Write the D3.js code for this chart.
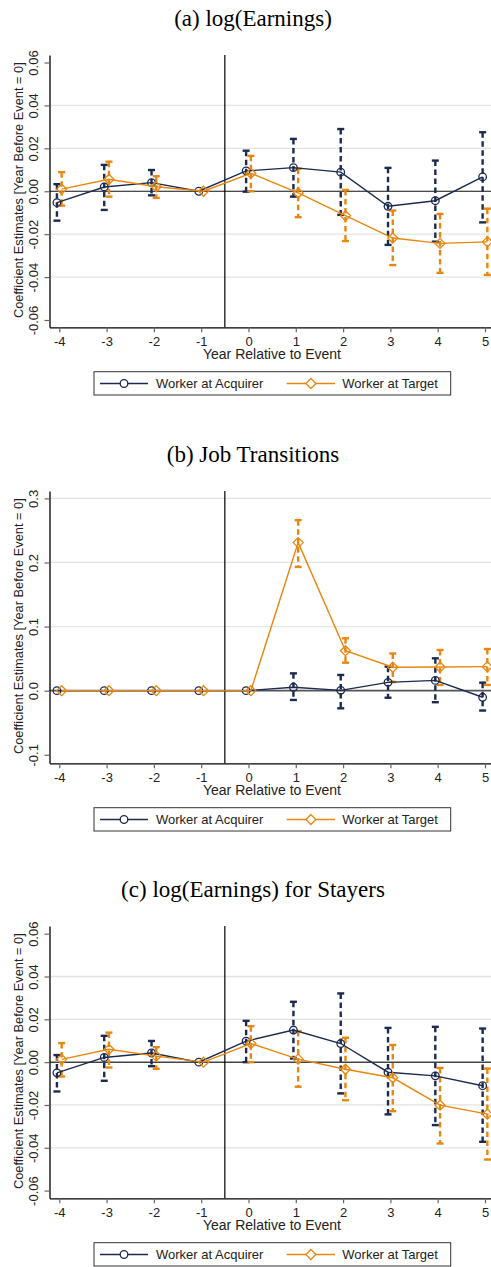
<!DOCTYPE html>
<html>
<head>
<meta charset="utf-8">
<script src="https://cdn.jsdelivr.net/npm/d3@7"></script>
<style>
  html, body { margin: 0; padding: 0; background: #fff; }
  svg { display: block; }
</style>
</head>
<body>
<svg id="chart" width="491" height="1267"></svg>
<script>
// Event-study coefficients, relative years -4..5 (year -1 is the reference year)
const years = [-4, -3, -2, -1, 0, 1, 2, 3, 4, 5];
const xTickValues = [-4, -3, -2, -1, 0, 1, 2, 3, 4, 5];
const seriesNames = ["Worker at Acquirer", "Worker at Target"];

// (a) log(Earnings)
const acqEarn   = [-0.0053, 0.0020, 0.0040, 0, 0.0095, 0.0110, 0.0089, -0.0070, -0.0044, 0.0067];
const acqEarnLo = [-0.0137, -0.0087, -0.0019, 0, -0.0002, -0.0025, -0.0110, -0.0250, -0.0235, -0.0145];
const acqEarnHi = [0.0033, 0.0123, 0.0099, 0, 0.0189, 0.0244, 0.0290, 0.0109, 0.0143, 0.0275];
const tgtEarn   = [0.0010, 0.0056, 0.0021, 0, 0.0084, -0.0008, -0.0114, -0.0218, -0.0243, -0.0236];
const tgtEarnLo = [-0.0067, -0.0025, -0.0031, 0, 0.0000, -0.0121, -0.0232, -0.0344, -0.0380, -0.0390];
const tgtEarnHi = [0.0089, 0.0138, 0.0070, 0, 0.0165, 0.0105, 0.0006, -0.0090, -0.0106, -0.0081];

// (b) Job Transitions
const acqJob   = [0, 0, 0, 0, 0, 0.0053, 0.0005, 0.0130, 0.0160, -0.0103];
const acqJobLo = [0, 0, 0, 0, 0, -0.0145, -0.0275, -0.0110, -0.0180, -0.0310];
const acqJobHi = [0, 0, 0, 0, 0, 0.0270, 0.0245, 0.0375, 0.0505, 0.0125];
const tgtJob   = [0, 0, 0, 0, 0, 0.2310, 0.0624, 0.0365, 0.0370, 0.0375];
const tgtJobLo = [0, 0, 0, 0, 0, 0.1930, 0.0437, 0.0136, 0.0090, 0.0090];
const tgtJobHi = [0, 0, 0, 0, 0, 0.2660, 0.0817, 0.0580, 0.0635, 0.0650];

// (c) log(Earnings) for Stayers
const acqStay   = [-0.0050, 0.0022, 0.0043, 0, 0.0098, 0.0150, 0.0087, -0.0047, -0.0064, -0.0110];
const acqStayLo = [-0.0137, -0.0087, -0.0019, 0, 0.0000, 0.0017, -0.0146, -0.0244, -0.0294, -0.0372];
const acqStayHi = [0.0033, 0.0123, 0.0099, 0, 0.0193, 0.0282, 0.0321, 0.0160, 0.0165, 0.0157];
const tgtStay   = [0.0013, 0.0060, 0.0028, 0, 0.0087, 0.0014, -0.0033, -0.0073, -0.0201, -0.0243];
const tgtStayLo = [-0.0067, -0.0025, -0.0031, 0, 0.0000, -0.0115, -0.0178, -0.0229, -0.0380, -0.0455];
const tgtStayHi = [0.0089, 0.0138, 0.0070, 0, 0.0168, 0.0145, 0.0114, 0.0080, -0.0027, -0.0030];

// Y tick labels per panel
const earnTicks = [-0.06, -0.04, -0.02, 0, 0.02, 0.04, 0.06];
const earnTickLabels = ["-0.06", "-0.04", "-0.02", "0.00", "0.02", "0.04", "0.06"];
const jobTicks = [-0.1, 0, 0.1, 0.2, 0.3];
const jobTickLabels = ["-0.1", "0.0", "0.1", "0.2", "0.3"];

const panelTitles = ["(a) log(Earnings)", "(b) Job Transitions", "(c) log(Earnings) for Stayers"];

const NAVY = "#1c2a50";
const ORANGE = "#e8870f";
const SANS = "'Liberation Sans', Arial, Helvetica, sans-serif";
const SERIF = "'Liberation Serif', 'Times New Roman', Times, serif";

const panels = [
  { top: 0, title: panelTitles[0], yDomain: [-0.0634, 0.0635], ticks: earnTicks, labels: earnTickLabels,
    grid: [-0.04, -0.02, 0.02, 0.04], zeroColor: "#111", zeroWidth: 1.2,
    acq: acqEarn, acqLo: acqEarnLo, acqHi: acqEarnHi, tgt: tgtEarn, tgtLo: tgtEarnLo, tgtHi: tgtEarnHi },
  { top: 436, title: panelTitles[1], yDomain: [-0.1133, 0.3115], ticks: jobTicks, labels: jobTickLabels,
    grid: [0.1, 0.2, 0.3], zeroColor: "#555", zeroWidth: 1.6,
    acq: acqJob, acqLo: acqJobLo, acqHi: acqJobHi, tgt: tgtJob, tgtLo: tgtJobLo, tgtHi: tgtJobHi },
  { top: 871, title: panelTitles[2], yDomain: [-0.0636, 0.0636], ticks: earnTicks, labels: earnTickLabels,
    grid: [-0.04, -0.02, 0.02, 0.04], zeroColor: "#444", zeroWidth: 1.5,
    acq: acqStay, acqLo: acqStayLo, acqHi: acqStayHi, tgt: tgtStay, tgtLo: tgtStayLo, tgtHi: tgtStayHi }
];

const svg = d3.select("#chart");

const plotLeft = 49.5, plotRight = 491, plotTop = 55, plotBottom = 327.3;
const x = d3.scaleLinear().domain([-4.207, 5.127]).range([plotLeft, plotRight]);

const circleSym = d3.symbol().type(d3.symbolCircle).size(Math.PI * 3.8 * 3.8);
const diamondPath = r => `M0,${-r}L${r},0L0,${r}L${-r},0Z`;

panels.forEach(p => {
  const g = svg.append("g").attr("transform", `translate(0,${p.top})`);
  const y = d3.scaleLinear().domain(p.yDomain).range([plotBottom, plotTop]);

  // title
  g.append("text")
    .attr("x", 253).attr("y", 26)
    .attr("text-anchor", "middle")
    .attr("font-family", SERIF).attr("font-size", 23)
    .attr("fill", "#000")
    .text(p.title);

  // gridlines
  g.append("g").selectAll("line").data(p.grid).join("line")
    .attr("x1", plotLeft).attr("x2", plotRight)
    .attr("y1", d => y(d)).attr("y2", d => y(d))
    .attr("stroke", "#e3e3e3").attr("stroke-width", 1.3);

  // zero reference line
  g.append("line")
    .attr("x1", plotLeft).attr("x2", plotRight)
    .attr("y1", y(0)).attr("y2", y(0))
    .attr("stroke", p.zeroColor).attr("stroke-width", p.zeroWidth);

  // event line between year -1 and year 0
  g.append("line")
    .attr("x1", x(-0.5)).attr("x2", x(-0.5))
    .attr("y1", plotTop).attr("y2", plotBottom)
    .attr("stroke", "#000").attr("stroke-width", 1.2);

  // axes
  const yAxis = d3.axisLeft(y).tickValues(p.ticks).tickSize(5).tickSizeOuter(0)
    .tickFormat((d, i) => p.labels[i]);
  const ya = g.append("g").attr("transform", `translate(${plotLeft},0)`).call(yAxis);
  ya.select(".domain").attr("stroke", "#000").attr("stroke-width", 1.3);
  ya.selectAll(".tick line").attr("stroke", "#666").attr("stroke-width", 1.2);
  ya.selectAll(".tick text")
    .attr("x", 0).attr("dy", 0)
    .attr("text-anchor", "middle")
    .attr("transform", "translate(-12,0) rotate(-90)")
    .attr("font-family", SANS).attr("font-size", 13).attr("fill", "#222");

  const xAxis = d3.axisBottom(x).tickValues(xTickValues).tickSize(5).tickSizeOuter(0)
    .tickFormat(d => String(d));
  const xa = g.append("g").attr("transform", `translate(0,${plotBottom})`).call(xAxis);
  xa.select(".domain").attr("stroke", "#000").attr("stroke-width", 1.3);
  xa.selectAll(".tick line").attr("stroke", "#666").attr("stroke-width", 1.2);
  xa.selectAll(".tick text")
    .attr("y", 9).attr("dy", "0.71em")
    .attr("font-family", SANS).attr("font-size", 13).attr("fill", "#222");

  // axis titles
  g.append("text")
    .attr("x", 272).attr("y", 359)
    .attr("text-anchor", "middle")
    .attr("font-family", SANS).attr("font-size", 14).attr("fill", "#222")
    .text("Year Relative to Event");
  g.append("text")
    .attr("transform", `translate(22.5,${(plotTop + plotBottom) / 2 - 1}) rotate(-90)`)
    .attr("text-anchor", "middle")
    .attr("font-family", SANS).attr("font-size", 12.8).attr("fill", "#222")
    .text("Coefficient Estimates [Year Before Event = 0]");

  const series = [
    { name: seriesNames[0], color: NAVY, dx: -0.05, est: p.acq, lo: p.acqLo, hi: p.acqHi, marker: "circle" },
    { name: seriesNames[1], color: ORANGE, dx: 0.05, est: p.tgt, lo: p.tgtLo, hi: p.tgtHi, marker: "diamond" }
  ];

  // confidence intervals (dashed with caps)
  series.forEach(s => {
    const ci = years.map((yr, i) => ({ x: yr + s.dx, lo: s.lo[i], hi: s.hi[i] }))
      .filter(d => d.lo !== d.hi);
    const cg = g.append("g");
    cg.selectAll("line.bar").data(ci).join("line").attr("class", "bar")
      .attr("x1", d => x(d.x)).attr("x2", d => x(d.x))
      .attr("y1", d => y(d.hi)).attr("y2", d => y(d.lo))
      .attr("stroke", s.color).attr("stroke-width", 2.4)
      .attr("stroke-dasharray", "5.5,3.5");
    cg.selectAll("line.capHi").data(ci).join("line").attr("class", "capHi")
      .attr("x1", d => x(d.x) - 3.5).attr("x2", d => x(d.x) + 3.5)
      .attr("y1", d => y(d.hi)).attr("y2", d => y(d.hi))
      .attr("stroke", s.color).attr("stroke-width", 2.4);
    cg.selectAll("line.capLo").data(ci).join("line").attr("class", "capLo")
      .attr("x1", d => x(d.x) - 3.5).attr("x2", d => x(d.x) + 3.5)
      .attr("y1", d => y(d.lo)).attr("y2", d => y(d.lo))
      .attr("stroke", s.color).attr("stroke-width", 2.4);
  });

  // connecting lines and markers
  series.forEach(s => {
    const pts = years.map((yr, i) => ({ x: yr + s.dx, v: s.est[i] }));
    g.append("path").datum(pts)
      .attr("d", d3.line().x(d => x(d.x)).y(d => y(d.v)))
      .attr("fill", "none").attr("stroke", s.color).attr("stroke-width", 1.4);
    g.append("g").selectAll("path").data(pts).join("path")
      .attr("transform", d => `translate(${x(d.x)},${y(d.v)})`)
      .attr("d", s.marker === "circle" ? circleSym() : diamondPath(5))
      .attr("fill", "none").attr("stroke", s.color).attr("stroke-width", 1.3);
  });

  // legend
  const lg = g.append("g");
  lg.append("rect")
    .attr("x", 94).attr("y", 371.7).attr("width", 356.7).attr("height", 23.3)
    .attr("fill", "#fff").attr("stroke", "#333").attr("stroke-width", 1);
  const items = [
    { s: series[0], x0: 100, x1: 148, tx: 156 },
    { s: series[1], x0: 286.7, x1: 335, tx: 342.3 }
  ];
  items.forEach(it => {
    const cy = 383.5;
    lg.append("line").attr("x1", it.x0).attr("x2", it.x1).attr("y1", cy).attr("y2", cy)
      .attr("stroke", it.s.color).attr("stroke-width", 1.4);
    lg.append("path")
      .attr("transform", `translate(${(it.x0 + it.x1) / 2},${cy})`)
      .attr("d", it.s.marker === "circle" ? circleSym() : diamondPath(5))
      .attr("fill", "#fff").attr("stroke", it.s.color).attr("stroke-width", 1.3);
    lg.append("text").attr("x", it.tx).attr("y", cy + 4.6)
      .attr("font-family", SANS).attr("font-size", 13).attr("fill", "#222")
      .text(it.s.name);
  });
});
</script>
</body>
</html>
